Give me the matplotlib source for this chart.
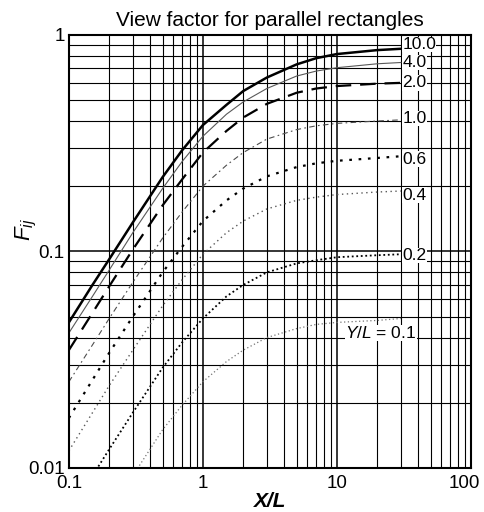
import matplotlib
matplotlib.use('Agg')
import matplotlib.pyplot as plt
from matplotlib.ticker import LogLocator, NullFormatter, FixedLocator, FixedFormatter
from matplotlib.transforms import ScaledTranslation

plt.rcParams['font.family'] = ['Liberation Sans', 'DejaVu Sans']
plt.rcParams['mathtext.fontset'] = 'custom'
plt.rcParams['mathtext.it'] = 'Liberation Sans:italic'
plt.rcParams['mathtext.rm'] = 'Liberation Sans'

x_l = [0.1, 0.15, 0.2, 0.3, 0.5, 0.7, 1, 1.5, 2, 3, 5, 7, 10, 20, 30]

# F_ij, one list per Y/L curve
f_10 = [0.047, 0.070, 0.092, 0.136, 0.22, 0.293, 0.383, 0.475, 0.55, 0.635, 0.73, 0.78, 0.815, 0.85, 0.862]
f_4 = [0.042, 0.062, 0.082, 0.122, 0.195, 0.26, 0.34, 0.43, 0.49, 0.565, 0.645, 0.68, 0.705, 0.735, 0.745]
f_2 = [0.035, 0.052, 0.069, 0.102, 0.163, 0.215, 0.286, 0.36, 0.415, 0.48, 0.54, 0.565, 0.58, 0.595, 0.60]
f_1 = [0.025, 0.037, 0.049, 0.072, 0.115, 0.152, 0.20, 0.25, 0.286, 0.33, 0.365, 0.38, 0.39, 0.40, 0.405]
f_06 = [0.017, 0.0255, 0.034, 0.05, 0.08, 0.105, 0.138, 0.172, 0.195, 0.222, 0.245, 0.255, 0.262, 0.27, 0.275]
f_04 = [0.012, 0.018, 0.024, 0.035, 0.056, 0.074, 0.097, 0.122, 0.138, 0.157, 0.172, 0.178, 0.183, 0.188, 0.19]
f_02 = [0.006, 0.0092, 0.0122, 0.018, 0.029, 0.038, 0.049, 0.062, 0.07, 0.08, 0.088, 0.091, 0.094, 0.096, 0.097]
f_01 = [0.0032, 0.0047, 0.0062, 0.0092, 0.015, 0.0195, 0.025, 0.031, 0.035, 0.040, 0.044, 0.046, 0.047, 0.048, 0.049]

curve_labels = ['10.0', '4.0', '2.0', '1.0', '0.6', '0.4', '0.2', r'$Y/L$ = 0.1']
x_ticks = [0.1, 1, 10, 100]
x_tick_labels = ['0.1', '1', '10', '100']
y_ticks = [0.01, 0.1, 1]
y_tick_labels = ['0.01', '0.1', '1']

curves = [f_10, f_4, f_2, f_1, f_06, f_04, f_02, f_01]
styles = [
    dict(color='black', lw=1.8, ls='-'),
    dict(color='0.35', lw=0.8, ls='-'),
    dict(color='black', lw=1.6, dashes=(7, 4)),
    dict(color='0.3', lw=0.8, dashes=(5, 3, 1.5, 3)),
    dict(color='black', lw=1.6, dashes=(1.2, 3)),
    dict(color='0.35', lw=1.0, dashes=(1, 2.5)),
    dict(color='black', lw=1.3, dashes=(1, 1.5)),
    dict(color='0.45', lw=0.9, dashes=(1, 2)),
]
# small vertical nudges (points) so the end labels sit like the original
label_dy = [3, 0, 0, 1, -2, -3, -1]

fig = plt.figure(figsize=(4.85, 5.12), dpi=100)
ax = fig.add_axes([0.142, 0.086, 0.829, 0.846])

for f, st in zip(curves, styles):
    ax.plot(x_l, f, **st)

ax.set_xscale('log')
ax.set_yscale('log')
ax.set_xlim(0.1, 100)
ax.set_ylim(0.01, 1)

# grid like the scanned log paper
ax.xaxis.set_minor_locator(LogLocator(base=10, subs=range(2, 10)))
ax.yaxis.set_minor_locator(LogLocator(base=10, subs=range(2, 10)))
ax.xaxis.set_minor_formatter(NullFormatter())
ax.yaxis.set_minor_formatter(NullFormatter())
ax.grid(which='major', color='black', lw=1.1)
ax.grid(which='minor', color='black', lw=0.8)
ax.set_axisbelow(True)

ax.xaxis.set_major_locator(FixedLocator(x_ticks))
ax.xaxis.set_major_formatter(FixedFormatter(x_tick_labels))
ax.yaxis.set_major_locator(FixedLocator(y_ticks))
ax.yaxis.set_major_formatter(FixedFormatter(y_tick_labels))
ax.tick_params(which='both', length=0, labelsize=13.5)
ax.tick_params(axis='x', pad=5)
ax.tick_params(axis='y', pad=3)
for s in ax.spines.values():
    s.set_linewidth(1.5)

fig.canvas.draw()
last = ax.get_xticklabels()[-1]
last.set_transform(last.get_transform() + ScaledTranslation(-5 / 72, 0, fig.dpi_scale_trans))

# curve labels next to the ends
for f, lab, dy in zip(curves[:-1], curve_labels[:-1], label_dy):
    ax.annotate(lab, (x_l[-1], f[-1]), xytext=(1, dy), textcoords='offset points',
                fontsize=12.5, va='center', ha='left',
                bbox=dict(facecolor='white', edgecolor='none', pad=0.2))
ax.text(11.5, 0.042, curve_labels[-1], fontsize=12.5, va='center', ha='left',
        bbox=dict(facecolor='white', edgecolor='none', pad=0.2))

ax.set_title('View factor for parallel rectangles', fontsize=15, pad=6)
ax.set_xlabel('X/L', fontsize=15, style='italic', fontweight='bold', labelpad=0)
ax.set_ylabel(r'$F_{ij}$', fontsize=16)
ax.yaxis.set_label_coords(-0.075, 0.55)

fig.savefig('out.png', dpi=100)
